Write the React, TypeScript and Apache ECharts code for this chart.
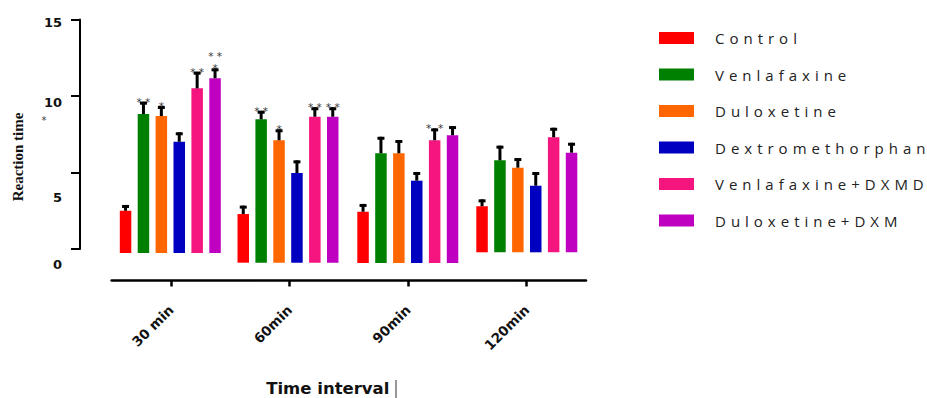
import React, { useEffect, useRef } from "react";
import * as echarts from "echarts";

// ---- data ----
const seriesNames = [
  "Control",
  "Venlafaxine",
  "Duloxetine",
  "Dextromethorphan",
  "Venlafaxine+DXMD",
  "Duloxetine+DXM",
];
const seriesColors = ["#FF0000", "#008000", "#FF6600", "#0000C0", "#F5157F", "#C000C0"];
const timeCategories = ["30 min", "60min", "90min", "120min"];
const yTickStep = 5;
const yMax = 15;

// mean reaction time per time interval (30, 60, 90, 120 min)
const controlMean = [2.76, 3.18, 3.35, 3.01];
const venlafaxineMean = [9.08, 9.37, 7.17, 6.01];
const duloxetineMean = [8.95, 8.0, 7.17, 5.53];
const dextromethorphanMean = [7.27, 5.86, 5.38, 4.35];
const venlaDxmMean = [10.76, 9.54, 8.02, 7.52];
const duloDxmMean = [11.42, 9.54, 8.35, 6.51];

// error (SEM)
const controlErr = [0.38, 0.55, 0.51, 0.45];
const venlafaxineErr = [0.81, 0.56, 1.08, 0.96];
const duloxetineErr = [0.66, 0.72, 0.87, 0.63];
const dextromethorphanErr = [0.62, 0.83, 0.57, 0.9];
const venlaDxmErr = [1.09, 0.62, 0.78, 0.62];
const duloDxmErr = [0.65, 0.62, 0.6, 0.65];

// significance marks: [timeIndex, seriesIndex, mark]
const marks: [number, number, string][] = [
  [0, 1, "* *"],
  [0, 2, "*"],
  [0, 4, "* *"],
  [0, 5, "* *\n*"],
  [1, 1, "* *"],
  [1, 2, "*"],
  [1, 4, "* *"],
  [1, 5, "* *"],
  [2, 4, "*  *"],
];

const means = [controlMean, venlafaxineMean, duloxetineMean, dextromethorphanMean, venlaDxmMean, duloDxmMean];
const errs = [controlErr, venlafaxineErr, duloxetineErr, dextromethorphanErr, venlaDxmErr, duloDxmErr];

// ---- layout (pixels) ----
const groupCenters = [170.3, 288, 407.8, 526.8];
const groupBaselines = [253, 262.7, 263, 252.3];
const axisTop = 19.5;
const axisBottom = 249;
const plotH = axisBottom - axisTop;
const slot = 17.9;
const barW = 11.5;
const markColor = "#3a3a3a";

export default function App() {
  const ref = useRef<HTMLDivElement>(null);
  useEffect(() => {
    if (!ref.current) return;
    const chart = echarts.init(ref.current, null, { renderer: "svg" });

    const grids: any[] = [];
    const xAxes: any[] = [];
    const yAxes: any[] = [];
    const series: any[] = [];

    timeCategories.forEach((_, g) => {
      grids.push({
        left: groupCenters[g] - (slot * 6) / 2,
        width: slot * 6,
        top: groupBaselines[g] - plotH,
        height: plotH,
        containLabel: false,
      });
      xAxes.push({ type: "category", gridIndex: g, data: seriesNames, show: false });
      yAxes.push({ type: "value", gridIndex: g, min: 0, max: yMax, show: false });
      seriesNames.forEach((name, i) => {
        series.push({
          type: "bar",
          name,
          xAxisIndex: g,
          yAxisIndex: g,
          barWidth: barW,
          barGap: "-100%",
          itemStyle: { color: seriesColors[i] },
          data: seriesNames.map((_, j) => (j === i ? means[i][g] : "-")),
        });
      });
      const markFor = (i: number) => {
        const m = marks.find((mk) => mk[0] === g && mk[1] === i);
        return m ? m[2] : "";
      };
      series.push({
        type: "custom",
        xAxisIndex: g,
        yAxisIndex: g,
        z: 5,
        itemStyle: { color: markColor },
        data: seriesNames.map((_, i) => [i, means[i][g], errs[i][g]]),
        renderItem: (params: any, api: any) => {
          const i = api.value(0);
          const m = api.value(1);
          const e = api.value(2);
          const base = api.coord([i, m]);
          const top = api.coord([i, m + e]);
          const mark = markFor(params.dataIndex);
          const children: any[] = [
            {
              type: "line",
              shape: { x1: base[0], y1: base[1], x2: top[0], y2: top[1] },
              style: { stroke: "#000", lineWidth: 3 },
            },
            {
              type: "line",
              shape: { x1: top[0] - 3.5, y1: top[1] + 1.5, x2: top[0] + 3.5, y2: top[1] + 1.5 },
              style: { stroke: "#000", lineWidth: 3 },
            },
          ];
          if (mark) {
            children.push({
              type: "text",
              x: top[0],
              y: top[1] + 6,
              style: {
                text: mark,
                align: "center",
                verticalAlign: "bottom",
                fill: markColor,
                stroke: "none",
                fontSize: 10.5,
                fontFamily: "DejaVu Sans",
                lineHeight: 12,
              },
            });
          }
          return { type: "group", children };
        },
      });
    });

    // visible y axis grid (index 4)
    grids.push({ left: 80, top: axisTop, height: plotH, width: 470 });
    xAxes.push({ type: "value", gridIndex: 4, show: false, min: 0, max: 1 });
    const labelShift: Record<string, number> = { "0": 30, "5": 50, "10": 13, "15": 5 };
    yAxes.push({
      type: "value",
      gridIndex: 4,
      min: 0,
      max: yMax,
      interval: yTickStep,
      axisLine: { show: true, lineStyle: { color: "#000", width: 2 } },
      axisTick: { show: true, length: 9, lineStyle: { color: "#000", width: 2 } },
      splitLine: { show: false },
      axisLabel: {
        margin: 18,
        formatter: (v: number) => `{s${v}|${v}}`,
        rich: Object.fromEntries(
          Object.entries(labelShift).map(([k, p]) => [
            "s" + k,
            { padding: [p, 0, 0, 0], fontSize: 13, fontWeight: "bold", fontFamily: "DejaVu Sans", color: "#111" },
          ])
        ),
      },
    });

    // visible x axis grid (index 5)
    grids.push({ left: 111.6, width: 474.4, top: 200, height: 89 });
    xAxes.push({
      type: "category",
      gridIndex: 5,
      data: timeCategories,
      axisLine: { show: true, lineStyle: { color: "#000", width: 2.5 } },
      axisTick: { show: true, alignWithLabel: true, length: 6, lineStyle: { color: "#000", width: 2.5 } },
      axisLabel: {
        rotate: 45,
        margin: 27,
        fontSize: 13.5,
        fontWeight: "bold",
        fontFamily: "DejaVu Sans",
        color: "#111",
      },
      name: "Time interval",
      nameLocation: "middle",
      nameGap: 100,
      nameTextStyle: {
        fontSize: 16.5,
        lineHeight: 16,
        fontWeight: "bold",
        fontFamily: "DejaVu Sans",
        color: "#111",
        padding: [0, 42, 0, 0],
      },
    });
    yAxes.push({ type: "value", gridIndex: 5, show: false });

    chart.setOption({
      animation: false,
      backgroundColor: "#fff",
      grid: grids,
      xAxis: xAxes,
      yAxis: yAxes,
      series,
      legend: {
        data: seriesNames,
        orient: "vertical",
        left: 659,
        top: 28,
        padding: 0,
        itemWidth: 35,
        itemHeight: 12,
        itemGap: 16.5,
        icon: "rect",
        formatter: (n: string) => n.split("").join("\u2004"),
        textStyle: {
          fontSize: 15,
          fontFamily: "Open Sans",
          color: "#222",
          padding: [0, 0, 0, 16],
          lineHeight: 20,
        },
      },
      graphic: [
        {
          type: "text",
          x: 18,
          y: 157,
          rotation: Math.PI / 2,
          style: {
            text: "Reaction time",
            align: "center",
            verticalAlign: "middle",
            fontSize: 15,
            fontWeight: "bold",
            fontFamily: "Liberation Serif",
            fill: "#111",
          },
        },
        {
          type: "text",
          x: 44,
          y: 120,
          style: {
            text: "*",
            align: "center",
            verticalAlign: "middle",
            fontSize: 10,
            fontFamily: "DejaVu Sans",
            fill: markColor,
          },
        },
        {
          type: "line",
          shape: { x1: 396, y1: 380, x2: 396, y2: 398 },
          style: { stroke: "#333", lineWidth: 1 },
        },
      ],
    });
    return () => chart.dispose();
  }, []);
  return <div ref={ref} style={{ position: "fixed", left: 0, top: 0, width: 927, height: 398 }} />;
}
